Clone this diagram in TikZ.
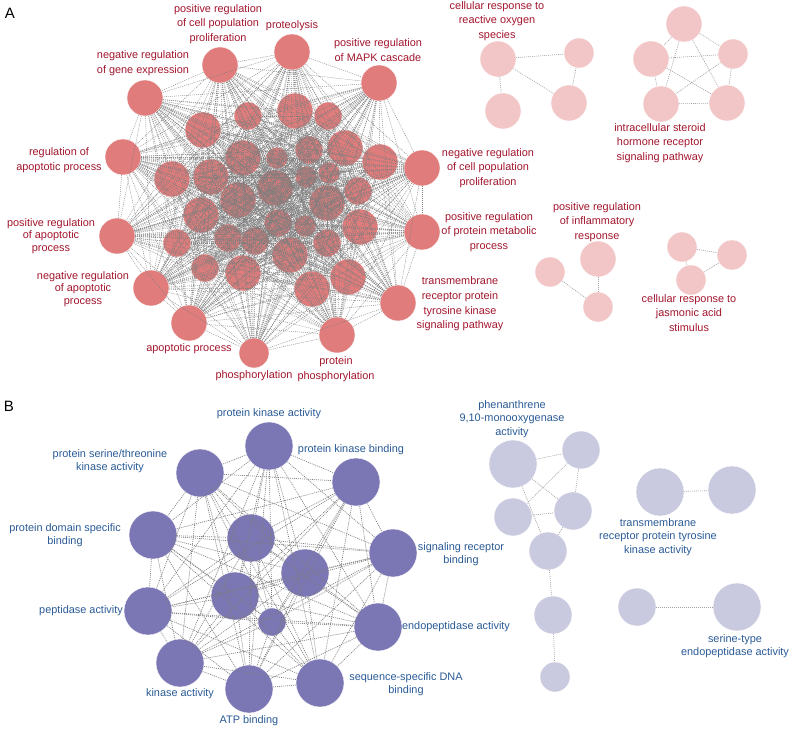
\documentclass[tikz,border=0pt]{standalone}
\usepackage{fontspec}
\setmainfont{Liberation Sans}
\definecolor{redfill}{HTML}{E07C7C}
\definecolor{pinkfill}{HTML}{F2C6C6}
\definecolor{redtext}{HTML}{A3162E}
\definecolor{purplefill}{HTML}{7B76B4}
\definecolor{lavfill}{HTML}{C9C9E0}
\definecolor{bluetext}{HTML}{2A5B96}
\definecolor{linkgray}{HTML}{7E7E7E}
\definecolor{lightlink}{HTML}{A0A0A0}
\begin{document}
\begin{tikzpicture}[x=1pt,y=-1pt,
  circA/.style={circle, inner sep=0pt, fill=redfill, draw=white, line width=0.4pt},
  circAl/.style={circle, inner sep=0pt, fill=pinkfill, draw=white, line width=0.4pt},
  circB/.style={circle, inner sep=0pt, fill=purplefill, draw=white, line width=0.4pt},
  circBl/.style={circle, inner sep=0pt, fill=lavfill, draw=white, line width=0.4pt},
  linkmain/.style={draw=linkgray, line width=0.4pt, dash pattern=on 1pt off 1pt},
  linkB/.style={draw=linkgray, line width=0.65pt, dash pattern=on 1pt off 1pt},
  linklight/.style={draw=lightlink, line width=0.6pt, dash pattern=on 1pt off 1pt},
  labA/.style={text=redtext, align=center, inner sep=0pt, font=\fontsize{10.9}{14.7}\selectfont},
  labB/.style={text=bluetext, align=center, inner sep=0pt, font=\fontsize{10.9}{13.5}\selectfont},
  panel/.style={inner sep=0pt, font=\fontsize{15}{17}\selectfont}]
\useasboundingbox (0,0) rectangle (796,730);
\fill[white] (0,0) rectangle (796,730);

% ---------------- Panel A main cluster ----------------
\foreach \n/\x/\y/\d in {
 1/220/65/36, 2/292/52/36, 3/379/83/36, 4/145/98/36, 5/123/157/36,
 6/422/168/36, 7/117/236/36, 8/422/232/36, 9/151/288/36, 10/398/303/36,
 11/189/323/36, 12/337/335/36, 13/254/353/30,
 14/248/116/28, 15/295/111/36, 16/328/116/28, 17/203/130/36, 18/345/148/36,
 19/309/150/28, 20/243/158/36, 21/277/158/22, 22/172/179/36, 23/211/177/36,
 24/380/162/36, 25/306/177/22, 26/329/173/22, 27/275/188/36, 28/358/191/28,
 29/238/200/36, 30/327/203/36, 31/201/215/36, 32/278/223/28, 33/305/226/22,
 34/360/227/36, 35/177/243/28, 36/228/238/28, 37/255/241/28, 38/290/255/36,
 39/327/243/28, 40/205/268/28, 41/243/273/36, 42/312/289/36, 43/348/277/36}
 { \node[circA, minimum size=\d pt] (A\n) at (\x,\y) {}; }
\foreach \i in {1,...,42}{
  \pgfmathtruncatemacro\k{\i+1}
  \foreach \j in {\k,...,43}{ \draw[linkmain] (A\i) -- (A\j); }
}

% ---------------- Panel A small clusters ----------------
\foreach \n/\x/\y/\d in {R1/498/59/36, R2/579/53/30, R3/569/103/36, R4/503/111/36,
 H1/684/24/36, H2/651/59/36, H3/733/54/30, H4/661/104/36, H5/727/103/36,
 I1/550/272/30, I2/598/259/36, I3/598/307/30,
 J1/682/247/30, J2/732/255/30, J3/691/280/30}
 { \node[circAl, minimum size=\d pt] (\n) at (\x,\y) {}; }
\foreach \a/\b in {R1/R2, R1/R3, R2/R3, R1/R4,
 H1/H2, H1/H3, H1/H4, H1/H5, H2/H3, H2/H4, H2/H5, H3/H4, H3/H5, H4/H5,
 I1/I3, I2/I3, J1/J2, J1/J3, J3/J2}
 { \draw[linklight] (\a) -- (\b); }

% ---------------- Panel A labels ----------------
\node[panel] (pA) at (10,13) {A};
\node[labA] (LA1) at (218,24) {positive regulation\\of cell population\\proliferation};
\node[labA] (LA2) at (292,26) {proteolysis};
\node[labA] (LA3) at (378,50) {positive regulation\\of MAPK cascade};
\node[labA] (LA4) at (143,63) {negative regulation\\of gene expression};
\node[labA] (LA5) at (59,160) {regulation of\\apoptotic process};
\node[labA] (LA6) at (488,168) {negative regulation\\of cell population\\proliferation};
\node[labA] (LA7) at (489,232) {positive regulation\\of protein metabolic\\process};
\node[labA, font=\fontsize{10.9}{12.7}\selectfont] (LA8) at (51,236) {positive regulation\\of apoptotic\\process};
\node[labA, font=\fontsize{10.9}{12.7}\selectfont] (LA9) at (83,289) {negative regulation\\of apoptotic\\process};
\node[labA] (LA10) at (460,304) {transmembrane\\receptor protein\\tyrosine kinase\\signaling pathway};
\node[labA] (LA11) at (189,349) {apoptotic process};
\node[labA] (LA12) at (336,369) {protein\\phosphorylation};
\node[labA] (LA13) at (254,376) {phosphorylation};
\node[labA] (LA14) at (497,21) {cellular response to\\reactive oxygen\\species};
\node[labA] (LA15) at (660,143) {intracellular steroid\\hormone receptor\\signaling pathway};
\node[labA] (LA16) at (597,222) {positive regulation\\of inflammatory\\response};
\node[labA] (LA17) at (689,313) {cellular response to\\jasmonic acid\\stimulus};

% ---------------- Panel B main cluster ----------------
\foreach \n/\x/\y/\d in {
 1/269/446/48, 2/200/473/48, 3/356/482/48, 4/153/535/48, 5/251/538/48,
 6/393/553/48, 7/305/573/48, 8/235/596/48, 9/148/611/48, 10/272/622/28,
 11/378/627/48, 12/180/663/48, 13/249/689/48, 14/320/683/48}
 { \node[circB, minimum size=\d pt] (B\n) at (\x,\y) {}; }
\foreach \i in {1,...,13}{
  \pgfmathtruncatemacro\k{\i+1}
  \foreach \j in {\k,...,14}{ \draw[linkB] (B\i) -- (B\j); }
}

% ---------------- Panel B small clusters ----------------
\foreach \n/\x/\y/\d in {P1/513/464/48, P2/581/450/38, P3/573/511/38, P4/513/517/38,
 P5/548/551/38, P6/553/615/38, P7/555/677/30,
 T1/660/492/48, T2/732/490/48, S1/637/607/38, S2/737/607/48}
 { \node[circBl, minimum size=\d pt] (\n) at (\x,\y) {}; }
\foreach \a/\b in {P1/P2, P1/P3, P2/P3, P2/P4, P1/P5, P4/P3, P3/P5, P5/P6, P6/P7,
 T1/T2, S1/S2}
 { \draw[linklight] (\a) -- (\b); }

% ---------------- Panel B labels ----------------
\node[panel] (pB) at (9,406) {B};
\node[labB] (LB1) at (269,414) {protein kinase activity};
\node[labB] (LB2) at (110,461) {protein serine/threonine\\kinase activity};
\node[labB] (LB3) at (351,450) {protein kinase binding};
\node[labB] (LB4) at (65,535) {protein domain specific\\binding};
\node[labB] (LB5) at (461,554) {signaling receptor\\binding};
\node[labB] (LB6) at (81,611) {peptidase activity};
\node[labB] (LB7) at (456,627) {endopeptidase activity};
\node[labB] (LB8) at (180,694) {kinase activity};
\node[labB] (LB9) at (249,721) {ATP binding};
\node[labB] (LB10) at (406,684) {sequence-specific DNA\\binding};
\node[labB] (LB11) at (512,419) {phenanthrene\\9,10-monooxygenase\\activity};
\node[labB] (LB12) at (658,537) {transmembrane\\receptor protein tyrosine\\kinase activity};
\node[labB] (LB13) at (735,646) {serine-type\\endopeptidase activity};
\end{tikzpicture}
\end{document}
